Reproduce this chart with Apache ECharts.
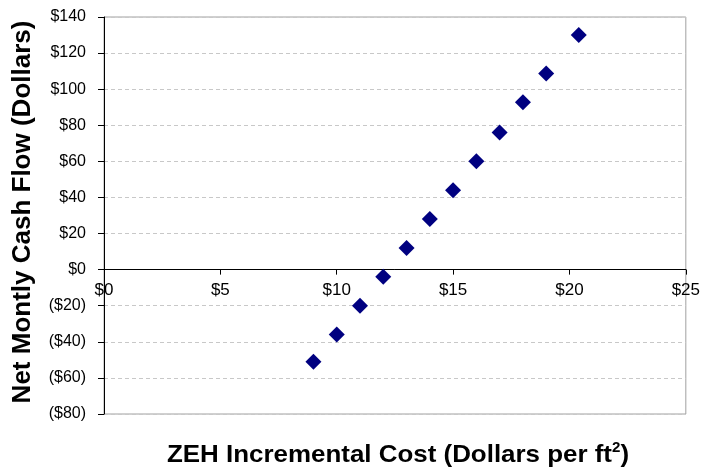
<!DOCTYPE html>
<html><head><meta charset="utf-8">
<script src="https://cdn.jsdelivr.net/npm/echarts@6/dist/echarts.min.js"></script>
<style>html,body{margin:0;padding:0;background:#fff}#c{width:703px;height:472px}</style>
</head><body><div id="c"></div>
<script>
const costs = [9, 10, 11, 12, 13, 14, 15, 16, 17, 18, 19, 20.4];
const cashFlow = [-51, -36, -20, -4, 12, 28, 44, 60, 76, 92.7, 108.7, 130];
const xTicks = [0, 5, 10, 15, 20, 25];
const yTicks = [-80, -60, -40, -20, 0, 20, 40, 60, 80, 100, 120, 140];
const xTitle = 'ZEH Incremental Cost (Dollars per ft';
const yTitle = 'Net Montly Cash Flow (Dollars)';

const chart = echarts.init(document.getElementById('c'), null, {renderer: 'canvas'});
const font = 'Liberation Sans, Arial, sans-serif';
const gridTop = 17, gridBottom = 58, H = 472;
const yMin = yTicks[0], yMax = yTicks[yTicks.length - 1];
const plotH = H - gridTop - gridBottom;
// move the x axis up to the zero line
const zeroOffset = -plotH * (0 - yMin) / (yMax - yMin);
chart.setOption({
  animation: false,
  grid: {left: 104, right: 15, top: gridTop, bottom: gridBottom, show: true, borderColor: '#a0a0a0', borderWidth: 1},
  xAxis: {
    type: 'value', min: xTicks[0], max: xTicks[xTicks.length - 1], interval: 5,
    position: 'bottom', offset: zeroOffset,
    axisLine: {onZero: false, lineStyle: {color: '#000', width: 1}},
    axisTick: {show: true, inside: false, length: 5, lineStyle: {color: '#000'}},
    axisLabel: {color: '#000', fontFamily: font, fontSize: 17, margin: 12, formatter: v => '$' + v},
    splitLine: {show: false}
  },
  yAxis: {
    type: 'value', min: yMin, max: yMax, interval: 20,
    axisLine: {show: true, onZero: false, lineStyle: {color: '#000', width: 1}},
    axisTick: {show: true, inside: false, length: 6, lineStyle: {color: '#000'}},
    axisLabel: {color: '#000', fontFamily: font, fontSize: 16, margin: 18,
      formatter: v => v < 0 ? '($' + (-v) + ')' : '$' + v},
    splitLine: {show: true, lineStyle: {color: '#c8c8c8', type: [4, 3], width: 1}}
  },
  series: [{
    type: 'scatter', symbol: 'diamond', symbolSize: 16,
    itemStyle: {color: '#000080', opacity: 1},
    data: costs.map((c, i) => [c, cashFlow[i]])
  }],
  graphic: [
    {type: 'text', x: 398, y: 454, scaleX: 1.08, style: {
      text: '{m|' + xTitle + '}{s|2}{m|)}', textAlign: 'center', textVerticalAlign: 'middle',
      rich: {
        m: {fontFamily: font, fontWeight: 'bold', fontSize: 24, fill: '#000', verticalAlign: 'bottom'},
        s: {fontFamily: font, fontWeight: 'bold', fontSize: 14, fill: '#000', verticalAlign: 'top', padding: [0, 0, 12, 0]}
      }
    }},
    {type: 'text', x: 23, y: 212, rotation: Math.PI / 2, style: {
      text: yTitle, textAlign: 'center', textVerticalAlign: 'middle',
      fontFamily: font, fontWeight: 'bold', fontSize: 26, fill: '#000'
    }}
  ]
});
</script></body></html>
